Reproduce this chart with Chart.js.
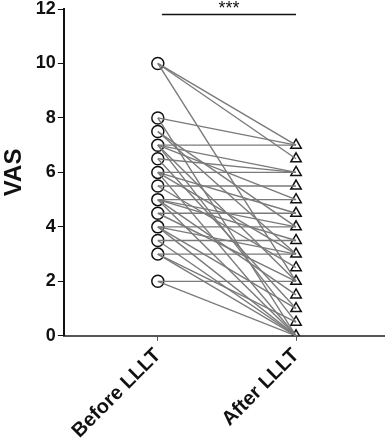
<!DOCTYPE html>
<html>
<head>
<meta charset="utf-8">
<script src="https://cdn.jsdelivr.net/npm/chart.js@4"></script>
<style>
  html, body { margin: 0; padding: 0; background: #fff; }
  #wrap { width: 392px; height: 446px; }
</style>
</head>
<body>
<div id="wrap"><canvas id="vasChart"></canvas></div>
<script>
const groups = ['Before LLLT', 'After LLLT'];
// one entry per patient, paired by index
const before = [10, 10, 10, 8, 8, 7.5, 7.5, 7, 7, 7, 7, 7, 6.5, 6.5, 6, 6, 6, 6, 5.5, 5.5,
                5, 5, 5, 5, 5, 4.5, 4.5, 4, 4, 4, 4, 3.5, 3.5, 3, 3, 3, 2, 2];
const after  = [7, 6.5, 2, 7, 0, 4, 3, 7, 6, 5, 2, 0.5, 6, 1, 6, 4.5, 3, 0, 5.5, 2.5,
                5, 4, 3.5, 1.5, 0, 4.5, 2, 4, 3, 1, 0, 3.5, 0, 3, 0.5, 0, 2, 0];
const yTicks = [0, 2, 4, 6, 8, 10, 12];
const sigLabel = '***';

// connecting lines, one per patient
const lines = before.map((b, i) => ({
    data: [{x: 0, y: b}, {x: 1, y: after[i]}],
    borderColor: '#7a7a7a',
    borderWidth: 1.4,
    pointRadius: 0
}));

// markers drawn once per distinct value so overlaps don't thicken them
const uniq = arr => [...new Set(arr)];
const markers = [
    { data: uniq(before).map(v => ({x: 0, y: v})), pointStyle: 'circle' },
    { data: uniq(after).map(v => ({x: 1, y: v})), pointStyle: 'triangle' }
].map(d => Object.assign(d, {
    showLine: false,
    pointRadius: 6,
    pointBorderColor: '#111',
    pointBackgroundColor: 'rgba(255,255,255,0)',
    pointBorderWidth: 1.5
}));

// significance bar over both groups
const sigBar = {
    id: 'sigBar',
    afterDatasetsDraw(chart) {
        const c = chart.ctx, x = chart.scales.x, y = chart.scales.y;
        const x1 = x.getPixelForValue(0.03), x2 = x.getPixelForValue(1);
        const py = y.getPixelForValue(11.8);
        c.save();
        c.strokeStyle = '#111';
        c.lineWidth = 1.5;
        c.beginPath();
        c.moveTo(x1, py);
        c.lineTo(x2, py);
        c.stroke();
        c.fillStyle = '#111';
        c.font = '18px "Liberation Sans", Arial, sans-serif';
        c.textAlign = 'center';
        c.textBaseline = 'bottom';
        c.fillText(sigLabel, (x1 + x2) / 2, py + 4);
        c.restore();
    }
};

new Chart(document.getElementById('vasChart'), {
    type: 'line',
    data: { datasets: lines.concat(markers) },
    plugins: [sigBar],
    options: {
        responsive: true,
        maintainAspectRatio: false,
        animation: false,
        layout: { padding: 0 },
        plugins: {
            legend: { display: false },
            tooltip: { enabled: false }
        },
        scales: {
            x: {
                type: 'linear',
                min: -0.68,
                max: 1.64,
                afterBuildTicks: axis => { axis.ticks = [{value: 0}, {value: 1}]; },
                afterFit: axis => { axis.paddingRight = 0; },
                ticks: {
                    color: '#111',
                    padding: 3,
                    maxRotation: 45,
                    minRotation: 45,
                    font: { family: '"Liberation Sans", Arial', size: 20, weight: 'bold' },
                    callback: v => groups[v]
                },
                grid: { drawOnChartArea: false, drawTicks: true, tickLength: 5, color: '#555' },
                border: { color: '#555', width: 2 }
            },
            y: {
                min: 0,
                max: 12,
                afterBuildTicks: axis => { axis.ticks = yTicks.map(v => ({value: v})); },
                afterFit: axis => { axis.paddingTop = 9; },
                ticks: {
                    color: '#111',
                    padding: 2,
                    font: { family: '"Liberation Sans", Arial', size: 18, weight: 'bold' }
                },
                title: {
                    display: true,
                    text: 'VAS',
                    color: '#111',
                    padding: { top: 0, bottom: 5 },
                    font: { family: '"Liberation Sans", Arial', size: 24, weight: 'bold' }
                },
                grid: { drawOnChartArea: false, drawTicks: true, tickLength: 6, color: '#111' },
                border: { color: '#111', width: 2 }
            }
        }
    }
});
</script>
</body>
</html>
